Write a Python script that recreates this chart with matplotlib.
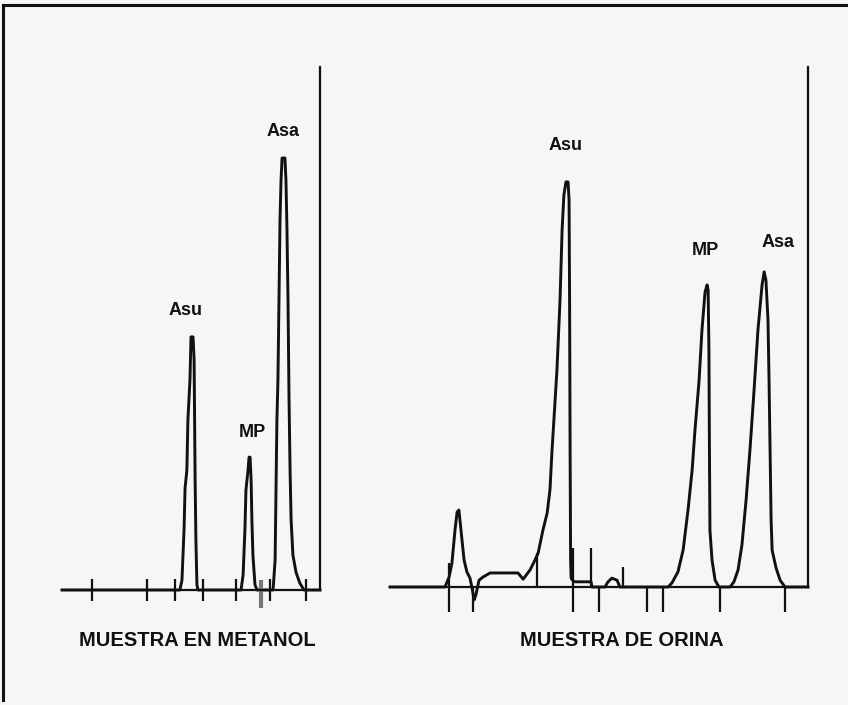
import matplotlib
matplotlib.use("Agg")
import matplotlib.pyplot as plt
from matplotlib.lines import Line2D

plt.rcParams['font.family'] = ['Liberation Sans', 'DejaVu Sans']

# ---------------- data: left chromatogram (sample in methanol) ----------------
# retention time (min) and signal (% of full scale)
met_time = [0.00, 4.57, 4.65, 4.73, 4.77, 4.84, 4.88, 4.96, 5.00, 5.08, 5.12, 5.14,
            5.16, 5.19, 5.23, 5.27, 6.94, 7.02, 7.09, 7.13, 7.21, 7.25, 7.29, 7.33,
            7.36, 7.40, 7.48, 7.56, 8.18, 8.26, 8.29, 8.33, 8.37, 8.41, 8.45, 8.49,
            8.53, 8.64, 8.68, 8.72, 8.76, 8.80, 8.84, 8.88, 8.95, 9.07, 9.22, 9.38, 10.0]
met_signal = [0.0, 0.0, 1.9, 11.5, 19.5, 22.9, 32.5, 40.2, 48.4, 48.4, 44.0, 32.5,
              21.0, 9.6, 1.0, 0.0, 0.0, 2.9, 11.5, 19.1, 22.9, 25.4, 25.4, 21.0,
              13.4, 6.7, 1.0, 0.0, 0.0, 5.7, 17.2, 32.5, 40.2, 55.4, 70.7, 78.4,
              82.6, 82.6, 78.4, 68.8, 55.4, 36.3, 22.9, 13.4, 6.7, 3.4, 1.3, 0.0, 0.0]
met_ticks = [1.16, 3.29, 4.38, 5.47, 6.74, 8.06, 9.46]
met_gray_tick = [7.71]
met_labels = ["Asu", "MP", "Asa"]
met_label_time = [4.77, 7.36, 8.57]
met_label_signal = [53.5, 30.2, 87.6]

# ---------------- data: right chromatogram (urine sample) ----------------
uri_time = [0.00, 2.13, 2.29, 2.40, 2.52, 2.60, 2.67, 2.75, 2.87, 2.98, 3.10, 3.18,
            3.26, 3.33, 3.45, 3.60, 3.88, 4.96, 5.16, 5.43, 5.62, 5.74, 5.93, 6.09,
            6.20, 6.28, 6.40, 6.47, 6.59, 6.67, 6.74, 6.82, 6.90, 6.94, 6.96, 6.98,
            7.00, 7.02, 7.09, 7.17, 7.79, 7.83, 8.33, 8.45, 8.60, 8.80, 8.91, 10.78,
            10.93, 11.16, 11.36, 11.55, 11.71, 11.82, 11.98, 12.09, 12.21, 12.29, 12.33,
            12.36, 12.38, 12.40, 12.48, 12.60, 12.75, 13.18, 13.33, 13.49, 13.64, 13.80,
            13.95, 14.11, 14.26, 14.42, 14.50, 14.57, 14.65, 14.69, 14.73, 14.77, 14.81,
            14.96, 15.12, 15.31, 16.20]
uri_signal = [0.0, 0.0, 1.9, 4.6, 11.0, 14.4, 14.8, 11.0, 5.2, 2.9, 1.7, -0.2,
              -2.5, -1.5, 1.3, 1.9, 2.7, 2.7, 1.5, 3.3, 5.2, 6.5, 11.0, 14.2,
              18.7, 26.3, 36.0, 41.7, 55.2, 68.7, 75.4, 77.9, 77.9, 74.4, 55.2, 26.3,
              5.2, 1.7, 1.2, 1.0, 1.0, 0.0, 0.0, 1.0, 1.7, 1.3, 0.0, 0.0,
              0.8, 2.9, 7.1, 14.8, 22.5, 30.2, 39.8, 49.4, 56.7, 58.1, 57.1,
              45.6, 26.3, 10.9, 5.2, 1.3, 0.0, 0.0, 1.0, 3.3, 8.1, 16.7,
              26.3, 37.9, 49.4, 58.1, 60.6, 59.0, 51.3, 39.8, 26.3, 12.9, 7.1,
              3.7, 1.3, 0.0, 0.0]
uri_ticks = [2.29, 3.22, 7.09, 8.10, 9.96, 10.58, 12.79, 15.31]
uri_marks_time = [2.29, 5.70, 7.09, 7.79, 9.03]
uri_marks_height = [4.6, 6.5, 7.5, 7.5, 3.8]
uri_labels = ["Asu", "MP", "Asa"]
uri_label_time = [6.82, 12.21, 15.04]
uri_label_signal = [85.0, 64.8, 66.2]

captions = ["MUESTRA EN METANOL", "MUESTRA DE ORINA"]

# ---------------- drawing ----------------
BG = '#f6f6f4'
INK = '#111111'
W, H = 848, 705
fig = plt.figure(figsize=(W / 100, H / 100), dpi=100, facecolor=BG)


def make_axes(x0, x1, ybase, ytop):
    return fig.add_axes([x0 / W, (H - ybase) / H, (x1 - x0) / W, (ybase - ytop) / H])


def style(ax, xmax, ticks, tickdir, ticklen):
    ax.set_facecolor('none')
    ax.set_xlim(0, xmax)
    ax.set_ylim(0, 100)
    for s in ['left', 'top']:
        ax.spines[s].set_visible(False)
    for s in ['bottom', 'right']:
        ax.spines[s].set_color(INK)
        ax.spines[s].set_linewidth(1.6)
    ax.set_yticks([])
    ax.set_xticks(ticks)
    ax.tick_params(axis='x', direction=tickdir, length=ticklen, width=1.6,
                   color=INK, labelbottom=False)


ax1 = make_axes(62, 320, 590, 67)
style(ax1, 10.0, met_ticks, 'inout', 16)
ax1.plot(met_time, met_signal, color=INK, lw=2.1, clip_on=False, solid_joinstyle='round')
ax1.vlines(met_gray_tick, -3.5, 2.0, color='#777777', lw=3.0, clip_on=False)
for lab, t, s in zip(met_labels, met_label_time, met_label_signal):
    ax1.text(t, s, lab, ha='center', va='center', fontsize=13, fontweight='bold', color=INK)

ax2 = make_axes(390, 808, 587, 67)
style(ax2, 16.2, uri_ticks, 'out', 18)
ax2.plot(uri_time, uri_signal, color=INK, lw=2.1, clip_on=False, solid_joinstyle='round')
ax2.vlines(uri_marks_time, 0, uri_marks_height, color=INK, lw=1.6, clip_on=False)
for lab, t, s in zip(uri_labels, uri_label_time, uri_label_signal):
    ax2.text(t, s, lab, ha='center', va='center', fontsize=13, fontweight='bold', color=INK)

# captions
fig.text(197 / W, 1 - 640 / H, captions[0], ha='center', va='center',
         fontsize=14.5, fontweight='bold', color=INK)
fig.text(622 / W, 1 - 640 / H, captions[1], ha='center', va='center',
         fontsize=14.5, fontweight='bold', color=INK)

# frame (top and left edges of the scanned box)
fig.add_artist(Line2D([3 / W, 1.0], [1 - 5 / H, 1 - 5 / H], transform=fig.transFigure,
                      color=INK, lw=2.2))
fig.add_artist(Line2D([3 / W, 3 / W], [1 - 5 / H, 1 - 700 / H], transform=fig.transFigure,
                      color=INK, lw=2.2))

fig.savefig('out.png', dpi=100, facecolor=BG)
